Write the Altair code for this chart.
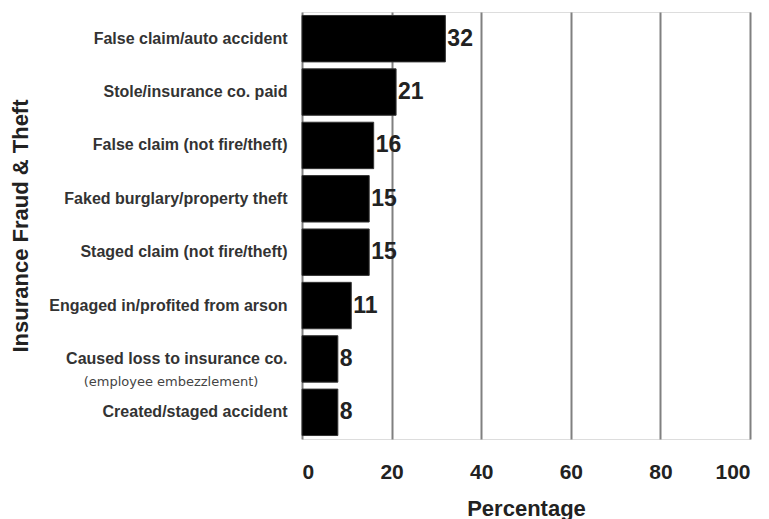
import altair as alt
import pandas as pd

categories = [
    "False claim/auto accident",
    "Stole/insurance co. paid",
    "False claim (not fire/theft)",
    "Faked burglary/property theft",
    "Staged claim (not fire/theft)",
    "Engaged in/profited from arson",
    "Caused loss to insurance co.",
    "Created/staged accident",
]
values = [32, 21, 16, 15, 15, 11, 8, 8]
sublabel_category = "Caused loss to insurance co."
sublabel_text = "(employee embezzlement)"
x_ticks = [0, 20, 40, 60, 80, 100]

df = pd.DataFrame({"category": categories, "value": values})
sub_df = pd.DataFrame({"category": [sublabel_category], "text": [sublabel_text]})

FONT = "Liberation Sans"
GRAY = "#808080"

y_enc = alt.Y(
    "category:N",
    sort=categories,
    scale=alt.Scale(paddingInner=0.13, paddingOuter=0.065),
    axis=alt.Axis(
        title="Insurance Fraud & Theft",
        titleFont=FONT,
        titleFontSize=22,
        titleFontWeight="bold",
        titleColor="#222222",
        titleAngle=-90,
        titleX=-282,
        titleY=213.5,
        titleAlign="center",
        titleBaseline="middle",
        labelFont=FONT,
        labelFontSize=16,
        labelFontWeight="bold",
        labelColor="#333333",
        labelPadding=15,
        labelLimit=300,
        ticks=False,
        domain=False,
        grid=False,
    ),
)

x_enc = alt.X(
    "value:Q",
    scale=alt.Scale(domain=[0, 100], nice=False),
    axis=alt.Axis(
        title="Percentage",
        values=x_ticks,
        titleFont=FONT,
        titleFontSize=22,
        titleFontWeight="bold",
        titleColor="#222222",
        titleY=69,
        titleBaseline="middle",
        labelFont=FONT,
        labelFontSize=21,
        labelFontWeight="bold",
        labelColor="#222222",
        labelPadding=22,
        ticks=False,
        domain=False,
        grid=True,
        gridColor=GRAY,
        gridWidth=2,
        gridOpacity=1,
    ),
)

bars = alt.Chart(df).mark_bar(color="#000000", stroke="#333333", strokeWidth=1).encode(
    x=x_enc, y=y_enc
)

labels = alt.Chart(df).mark_text(
    align="left", baseline="middle", dx=2, font=FONT, fontSize=23,
    fontWeight="bold", color="#222222"
).encode(x="value:Q", y=alt.Y("category:N", sort=categories), text="value:Q")

sub = alt.Chart(sub_df).mark_text(
    align="center", baseline="middle", dy=23, font="DejaVu Sans", fontSize=13, color="#444444"
).encode(x=alt.value(-131), y=alt.Y("category:N", sort=categories), text="text:N")

chart = (
    alt.layer(bars, labels, sub)
    .properties(
        width=448,
        height=427,
        autosize=alt.AutoSizeParams(type="none"),
        padding={"left": 302, "top": 12, "right": 19, "bottom": 80},
    )
    .configure_view(stroke=GRAY, strokeWidth=2)
    .configure(background="white")
)

chart.save("out.html", embed_options={"renderer": "svg", "actions": False})
